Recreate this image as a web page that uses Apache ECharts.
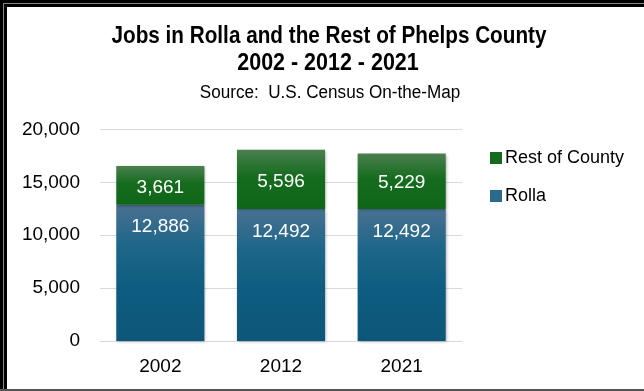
<!DOCTYPE html>
<html>
<head>
<meta charset="utf-8">
<script src="https://cdn.jsdelivr.net/npm/echarts@6/dist/echarts.min.js"></script>
<style>
html,body{margin:0;padding:0;background:#fff;}
#c{width:644px;height:391px;}
</style>
</head>
<body>
<div id="c"></div>
<script>
const categories = ['2002', '2012', '2021'];
const rolla = [12886, 12492, 12492];
const restOfCounty = [3661, 5596, 5229];
const yTicks = [0, 5000, 10000, 15000, 20000];

const chart = echarts.init(document.getElementById('c'), null, {renderer: 'canvas'});
const FONT = '"Liberation Sans", Arial, sans-serif';
const fmt = v => v.toLocaleString('en-US');

const blueGrad = new echarts.graphic.LinearGradient(0, 0, 0, 1, [
  {offset: 0, color: '#4a7191'},
  {offset: 0.3, color: '#1d6689'},
  {offset: 0.6, color: '#0e5d81'},
  {offset: 1, color: '#0c5679'}
]);
const greenGrad = new echarts.graphic.LinearGradient(0, 0, 0, 1, [
  {offset: 0, color: '#4b7f4f'},
  {offset: 0.45, color: '#156c1e'},
  {offset: 1, color: '#106618'}
]);

function titleText(x, y, text, font, sx) {
  return {type: 'text', silent: true, x: x, y: y, scaleX: sx, scaleY: 1,
    style: {x: 0, y: 0, text: text, textAlign: 'center', textVerticalAlign: 'middle', font: font, fill: '#000'}};
}

chart.setOption({
  animation: false,
  backgroundColor: '#fff',
  textStyle: {fontFamily: FONT},
  grid: {left: 100, right: 182, top: 129.5, bottom: 50, containLabel: false},
  legend: {
    orient: 'vertical',
    left: 485,
    top: 144,
    itemWidth: 12,
    itemHeight: 12,
    itemGap: 20,
    icon: 'rect',
    textStyle: {fontFamily: FONT, fontSize: 18, color: '#000', padding: [0, 0, 0, -2]},
    data: [
      {name: 'Rest of County', itemStyle: {color: '#136b1d'}},
      {name: 'Rolla', itemStyle: {color: '#2a6a8c'}}
    ]
  },
  xAxis: {
    type: 'category',
    data: categories,
    axisLine: {show: true, lineStyle: {color: '#d9d9d9', width: 1}},
    axisTick: {show: false},
    axisLabel: {fontFamily: FONT, fontSize: 19, color: '#000', margin: 16}
  },
  yAxis: {
    type: 'value',
    min: yTicks[0],
    max: yTicks[yTicks.length - 1],
    interval: yTicks[1] - yTicks[0],
    axisLine: {show: false},
    axisTick: {show: false},
    splitLine: {lineStyle: {color: '#d9d9d9', width: 1}},
    axisLabel: {fontFamily: FONT, fontSize: 19, color: '#000', margin: 20, formatter: v => fmt(v)}
  },
  series: [
    {
      name: 'Rolla',
      type: 'bar',
      stack: 'jobs',
      data: rolla,
      barCategoryGap: '27%',
      itemStyle: {color: blueGrad, shadowBlur: 3, shadowOffsetX: 1, shadowOffsetY: 1, shadowColor: 'rgba(0,0,0,0.35)'},
      label: {show: true, position: 'insideTop', distance: 13, color: '#fff', fontFamily: FONT, fontSize: 19, formatter: p => fmt(p.value)}
    },
    {
      name: 'Rest of County',
      type: 'bar',
      stack: 'jobs',
      data: restOfCounty,
      barCategoryGap: '27%',
      itemStyle: {color: greenGrad, shadowBlur: 3, shadowOffsetX: 1, shadowOffsetY: 1, shadowColor: 'rgba(0,0,0,0.35)'},
      label: {show: true, position: 'inside', offset: [0, 2], color: '#fff', fontFamily: FONT, fontSize: 19, formatter: p => fmt(p.value)}
    }
  ],
  graphic: [
    titleText(329, 36, 'Jobs in Rolla and the Rest of Phelps County', 'bold 24px ' + FONT, 0.863),
    titleText(328, 63, '2002 - 2012 - 2021', 'bold 24px ' + FONT, 0.895),
    titleText(330, 93, 'Source:  U.S. Census On-the-Map', '18px ' + FONT, 0.95),
    {type: 'rect', silent: true, shape: {x: 0, y: 0, width: 7, height: 391}, style: {fill: '#000'}},
    {type: 'rect', silent: true, shape: {x: 0, y: 0, width: 644, height: 7}, style: {fill: '#000'}},
    {type: 'rect', silent: true, shape: {x: 3, y: 3, width: 1, height: 388}, style: {fill: '#888'}},
    {type: 'rect', silent: true, shape: {x: 3, y: 3, width: 641, height: 1}, style: {fill: '#888'}},
    {type: 'rect', silent: true, shape: {x: 0, y: 389, width: 644, height: 2}, style: {fill: '#555'}}
  ]
});
</script>
</body>
</html>
